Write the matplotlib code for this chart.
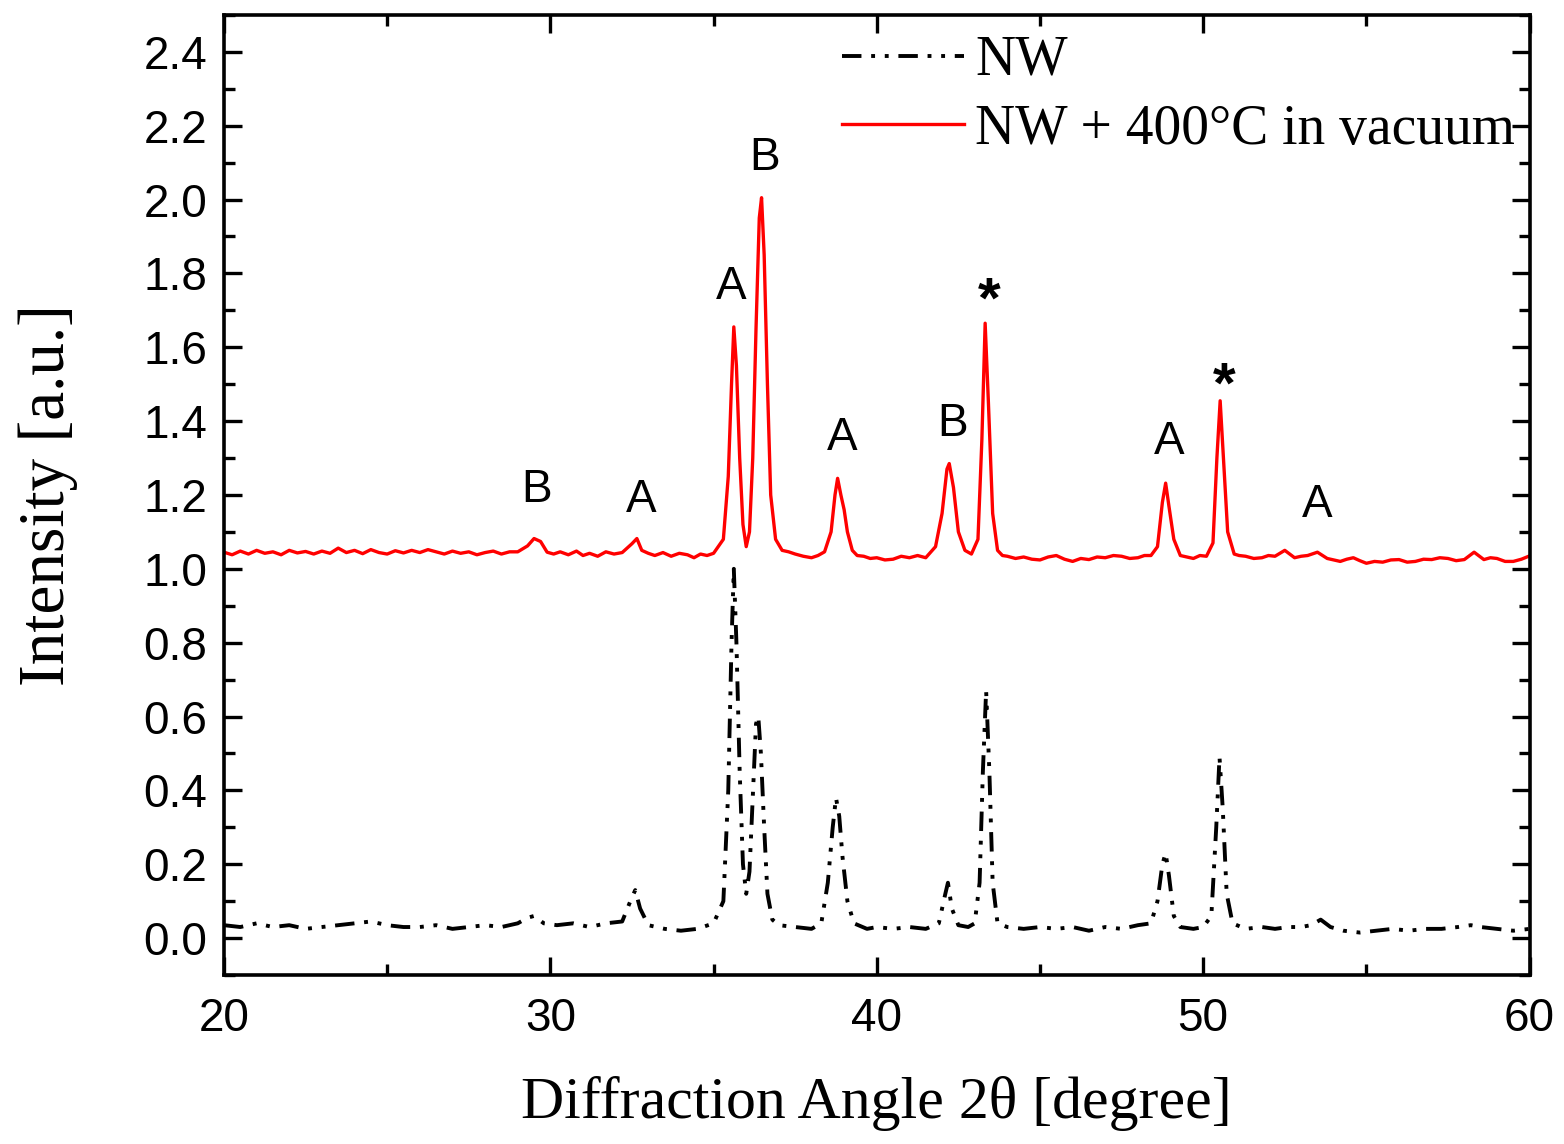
import matplotlib
matplotlib.use("Agg")
import matplotlib.pyplot as plt
from matplotlib.ticker import MultipleLocator, FormatStrFormatter

# NW (as grown)
nw_x = [20.0, 20.5, 21.0, 21.5, 22.0, 22.5, 23.0, 23.5, 24.0, 24.5, 25.0, 25.5,
        26.0, 26.5, 27.0, 27.5, 28.0, 28.5, 29.0, 29.3, 29.5, 29.8, 30.2, 30.7,
        31.2, 31.7, 32.2, 32.45, 32.6, 32.75, 33.0, 33.5, 34.0, 34.5, 35.0, 35.3,
        35.45, 35.55, 35.62, 35.7, 35.8, 35.9, 36.0, 36.1, 36.2, 36.3, 36.37, 36.45,
        36.55, 36.65, 36.8, 37.0, 37.5, 38.0, 38.3, 38.5, 38.65, 38.75, 38.85, 38.95,
        39.1, 39.3, 39.7, 40.0, 40.5, 41.0, 41.5, 41.9, 42.1, 42.18, 42.3, 42.5,
        42.8, 43.0, 43.15, 43.25, 43.35, 43.45, 43.55, 43.7, 44.0, 44.5, 45.0, 45.5,
        46.0, 46.5, 47.0, 47.5, 48.0, 48.4, 48.6, 48.75, 48.85, 48.95, 49.1, 49.3,
        49.7, 50.0, 50.25, 50.4, 50.5, 50.6, 50.72, 50.9, 51.3, 51.8, 52.2, 52.6,
        53.0, 53.3, 53.6, 53.9, 54.3, 54.8, 55.3, 55.8, 56.3, 56.8, 57.3, 57.8,
        58.2, 58.5, 59.0, 59.5, 60.0]
nw_y = [0.035, 0.030, 0.040, 0.030, 0.035, 0.025, 0.030, 0.035, 0.040, 0.045, 0.035, 0.030,
        0.030, 0.035, 0.025, 0.030, 0.035, 0.030, 0.040, 0.055, 0.060, 0.040, 0.035, 0.040,
        0.030, 0.040, 0.045, 0.100, 0.130, 0.080, 0.035, 0.025, 0.020, 0.025, 0.040, 0.100,
        0.400, 0.800, 1.000, 0.800, 0.450, 0.200, 0.120, 0.180, 0.380, 0.580, 0.600, 0.500,
        0.300, 0.120, 0.050, 0.035, 0.030, 0.025, 0.040, 0.150, 0.300, 0.380, 0.330, 0.220,
        0.100, 0.040, 0.025, 0.030, 0.025, 0.030, 0.025, 0.040, 0.120, 0.150, 0.080, 0.035,
        0.030, 0.040, 0.150, 0.450, 0.670, 0.450, 0.150, 0.040, 0.030, 0.025, 0.030, 0.025,
        0.030, 0.020, 0.030, 0.025, 0.035, 0.040, 0.100, 0.200, 0.230, 0.170, 0.060, 0.030,
        0.025, 0.030, 0.060, 0.300, 0.490, 0.350, 0.120, 0.040, 0.025, 0.030, 0.025, 0.030,
        0.030, 0.035, 0.050, 0.030, 0.020, 0.015, 0.020, 0.025, 0.020, 0.025, 0.025, 0.030,
        0.035, 0.030, 0.025, 0.020, 0.025]

# NW + 400C in vacuum
an_x = [20.0, 20.25, 20.5, 20.75, 21.0, 21.25, 21.5, 21.75, 22.0, 22.25, 22.5, 22.75,
        23.0, 23.25, 23.5, 23.75, 24.0, 24.25, 24.5, 24.75, 25.0, 25.25, 25.5, 25.75,
        26.0, 26.25, 26.5, 26.75, 27.0, 27.25, 27.5, 27.75, 28.0, 28.25, 28.5, 28.75,
        29.0, 29.3, 29.5, 29.7, 29.9, 30.1, 30.3, 30.55, 30.8, 31.0, 31.2, 31.45,
        31.7, 31.95, 32.2, 32.5, 32.65, 32.8, 33.0, 33.2, 33.45, 33.7, 33.95, 34.2,
        34.4, 34.6, 34.8, 35.0, 35.3, 35.45, 35.55, 35.62, 35.7, 35.8, 35.9, 36.0,
        36.1, 36.2, 36.3, 36.4, 36.47, 36.55, 36.65, 36.75, 36.9, 37.1, 37.3, 37.5,
        37.75, 38.0, 38.2, 38.4, 38.6, 38.72, 38.8, 38.9, 39.0, 39.1, 39.25, 39.4,
        39.6, 39.8, 40.0, 40.25, 40.5, 40.75, 41.0, 41.25, 41.5, 41.8, 42.0, 42.15,
        42.22, 42.35, 42.5, 42.7, 42.9, 43.1, 43.22, 43.32, 43.42, 43.55, 43.7, 43.85,
        44.0, 44.25, 44.5, 44.75, 45.0, 45.25, 45.5, 45.75, 46.0, 46.25, 46.5, 46.75,
        47.0, 47.25, 47.5, 47.75, 48.0, 48.2, 48.4, 48.6, 48.75, 48.85, 48.95, 49.1,
        49.3, 49.5, 49.7, 49.9, 50.1, 50.3, 50.42, 50.52, 50.62, 50.75, 50.95, 51.1,
        51.3, 51.55, 51.8, 52.0, 52.2, 52.5, 52.8, 53.0, 53.2, 53.5, 53.8, 54.0,
        54.2, 54.4, 54.6, 54.8, 55.0, 55.25, 55.5, 55.75, 56.0, 56.25, 56.5, 56.75,
        57.0, 57.25, 57.5, 57.75, 58.0, 58.3, 58.6, 58.8, 59.0, 59.25, 59.5, 59.75,
        60.0]
an_y = [1.045, 1.038, 1.048, 1.040, 1.050, 1.042, 1.046, 1.038, 1.050, 1.043, 1.047, 1.040,
        1.048, 1.042, 1.056, 1.044, 1.050, 1.041, 1.052, 1.044, 1.040, 1.049, 1.043, 1.050,
        1.044, 1.052, 1.046, 1.040, 1.048, 1.042, 1.046, 1.038, 1.044, 1.048, 1.040, 1.046,
        1.046, 1.062, 1.082, 1.074, 1.045, 1.040, 1.046, 1.038, 1.048, 1.036, 1.042, 1.034,
        1.046, 1.040, 1.044, 1.068, 1.082, 1.050, 1.042, 1.036, 1.044, 1.034, 1.042, 1.038,
        1.030, 1.040, 1.036, 1.042, 1.080, 1.250, 1.500, 1.655, 1.550, 1.300, 1.120, 1.060,
        1.100, 1.300, 1.650, 1.950, 2.005, 1.850, 1.500, 1.200, 1.080, 1.050, 1.046, 1.040,
        1.034, 1.030, 1.036, 1.046, 1.100, 1.200, 1.245, 1.200, 1.160, 1.100, 1.050, 1.036,
        1.034, 1.028, 1.030, 1.024, 1.026, 1.034, 1.030, 1.036, 1.030, 1.060, 1.150, 1.270,
        1.285, 1.220, 1.100, 1.050, 1.040, 1.080, 1.350, 1.665, 1.450, 1.150, 1.050, 1.036,
        1.034, 1.028, 1.032, 1.026, 1.024, 1.032, 1.036, 1.026, 1.020, 1.028, 1.025, 1.032,
        1.030, 1.036, 1.034, 1.028, 1.030, 1.036, 1.036, 1.060, 1.180, 1.232, 1.170, 1.080,
        1.036, 1.032, 1.028, 1.036, 1.034, 1.070, 1.300, 1.455, 1.300, 1.100, 1.040, 1.036,
        1.034, 1.028, 1.030, 1.036, 1.034, 1.050, 1.030, 1.034, 1.036, 1.045, 1.028, 1.024,
        1.020, 1.026, 1.030, 1.022, 1.015, 1.020, 1.018, 1.024, 1.025, 1.018, 1.020, 1.026,
        1.025, 1.030, 1.028, 1.022, 1.025, 1.045, 1.025, 1.030, 1.028, 1.020, 1.020, 1.026,
        1.035]

# peak labels
lab_text = ['B', 'A', 'A', 'B', 'A', 'B', '*', 'A', '*', 'A']
lab_x = [29.59, 32.77, 35.53, 36.57, 38.93, 42.33, 43.46, 48.97, 50.66, 53.48]
lab_y = [1.182, 1.155, 1.731, 2.079, 1.321, 1.359, 1.680, 1.310, 1.450, 1.139]

fig = plt.figure(figsize=(15.64, 11.44), dpi=100)
ax = fig.add_axes([0.1432, 0.1477, 0.978 - 0.1432, 0.987 - 0.1477])

ax.plot(nw_x, nw_y, color='black', lw=2.8, dashes=(5, 2.5, 1, 2.5, 1, 2.5), label='NW')
ax.plot(an_x, an_y, color='#ff0000', lw=2.4, label='NW + 400°C in vacuum')

for t, x, y in zip(lab_text, lab_x, lab_y):
    if t == '*':
        ax.text(x, y, t, ha='center', va='baseline', fontsize=42,
                family='Liberation Sans', fontweight='bold')
    else:
        ax.text(x, y, t, ha='center', va='baseline', fontsize=33, family='Liberation Sans')

ax.set_xlim(20, 60)
ax.set_ylim(-0.1, 2.5)
ax.xaxis.set_major_locator(MultipleLocator(10))
ax.xaxis.set_minor_locator(MultipleLocator(5))
ax.yaxis.set_major_locator(MultipleLocator(0.2))
ax.yaxis.set_minor_locator(MultipleLocator(0.1))
ax.yaxis.set_major_formatter(FormatStrFormatter('%.1f'))

ax.tick_params(which='both', direction='in', top=True, right=True, width=2.4)
ax.tick_params(which='major', length=13)
ax.tick_params(which='minor', length=8)
ax.tick_params(axis='x', pad=16)
ax.tick_params(axis='y', pad=12)
for lab in ax.get_xticklabels() + ax.get_yticklabels():
    lab.set_fontsize(33)
    lab.set_family('Liberation Sans')
for s in ax.spines.values():
    s.set_linewidth(2.6)

ax.set_xlabel('Diffraction Angle 2θ [degree]', fontsize=43, family='Liberation Serif')
ax.set_ylabel('Intensity [a.u.]', fontsize=47, family='Liberation Serif')
ax.xaxis.set_label_coords(0.5, -0.105)
ax.yaxis.set_label_coords(-0.112, 0.5)

leg = ax.legend(loc='upper right', bbox_to_anchor=(1.01, 1.008), frameon=False,
                prop={'family': 'Liberation Serif', 'size': 40},
                handlelength=2.2, handletextpad=0.2, labelspacing=0.3, borderaxespad=0.1)

fig.savefig('out.png', dpi=100)
